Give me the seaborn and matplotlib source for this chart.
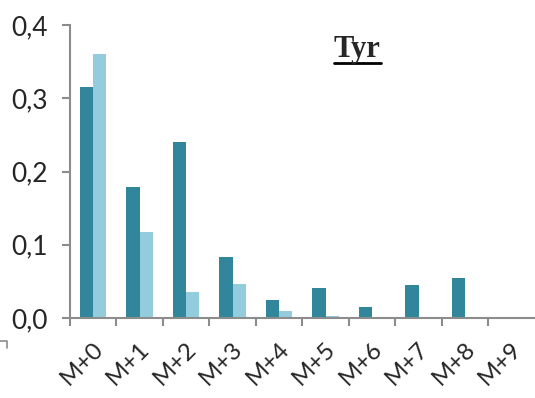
import matplotlib
matplotlib.use("Agg")
import matplotlib.pyplot as plt
import matplotlib.ticker as mticker
from matplotlib.lines import Line2D
import pandas as pd
import seaborn as sns

# isotopologue distribution for Tyr
labels = ["M+0", "M+1", "M+2", "M+3", "M+4", "M+5", "M+6", "M+7", "M+8", "M+9"]
serie1 = [0.315, 0.179, 0.241, 0.083, 0.0245, 0.0405, 0.0146, 0.045, 0.0545, 0.0]
serie2 = [0.361, 0.118, 0.036, 0.046, 0.010, 0.003, 0.001, 0.0, 0.0, 0.0]

df = pd.DataFrame({
    "iso": labels * 2,
    "val": serie1 + serie2,
    "serie": ["Série1"] * len(labels) + ["Série2"] * len(labels),
})

sns.set_style("white")
plt.rcParams["font.family"] = ["Lato", "DejaVu Sans"]

fig = plt.figure(figsize=(5.35, 3.98), dpi=100)
ax = fig.add_axes([0.1308, 0.201, 0.8692, 0.736])

sns.barplot(data=df, x="iso", y="val", hue="serie",
            palette=["#31869B", "#93CDDD"], width=0.57, gap=0,
            saturation=1, legend=False, ax=ax, linewidth=0)

ax.set_xlim(-0.5, 9.5)
ax.set_ylim(0, 0.4)
ax.set_yticks([0, 0.1, 0.2, 0.3, 0.4])
ax.yaxis.set_major_formatter(mticker.FuncFormatter(lambda v, p: f"{v:.1f}".replace(".", ",")))
ax.set_xticks([i - 0.5 for i in range(10)])
ax.set_xticklabels([])
ax.set_xlabel("")
ax.set_ylabel("")

gray = "#8c8c8c"
for s in ["top", "right"]:
    ax.spines[s].set_visible(False)
for s in ["left", "bottom"]:
    ax.spines[s].set_color(gray)
    ax.spines[s].set_linewidth(1.5)

ax.tick_params(axis="y", which="major", length=6, width=1.5, color=gray,
               labelsize=19, pad=10, left=True)
ax.tick_params(axis="x", which="major", length=6, width=1.5, color=gray, bottom=True)

# rotated category labels, top-right corner hung under each group
for i, lab in enumerate(labels):
    ax.annotate(lab, xy=(i, 0), xycoords=("data", "axes fraction"),
                xytext=(-1, -20), textcoords="offset pixels",
                rotation=45, rotation_mode="anchor", ha="right", va="top",
                fontsize=17.5)

# title with underline
title = fig.text(0.668, 0.858, "Tyr", family="Liberation Serif", weight="bold",
                 fontsize=22, ha="center", va="baseline")
fig.canvas.draw()
bb = title.get_window_extent().transformed(fig.transFigure.inverted())
fig.add_artist(Line2D([bb.x0, bb.x1], [bb.y0 + 0.002, bb.y0 + 0.002],
                      transform=fig.transFigure, color="black", lw=2))

# bit of a frame at lower left
fig.add_artist(Line2D([0, 0.013, 0.013], [0.143, 0.143, 0.125],
                      transform=fig.transFigure, color=gray, lw=1.2))

fig.savefig("out.png", dpi=100)
